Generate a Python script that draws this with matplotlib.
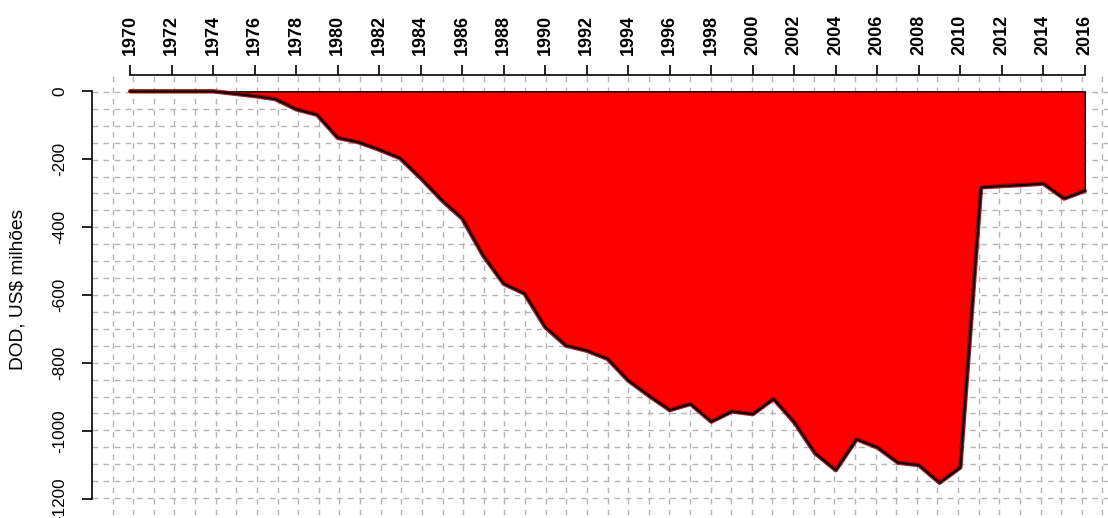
import matplotlib
matplotlib.use("Agg")
import matplotlib.pyplot as plt
import numpy as np

years = list(range(1970, 2017))
dod = [0, 0, 0, 0, 0, -7, -14, -23, -53, -69,
       -137, -150, -172, -197, -256, -320, -375, -483, -567, -596,
       -695, -749, -764, -788, -852, -897, -939, -921, -973, -943,
       -951, -906, -975, -1066, -1116, -1025, -1049, -1094, -1101, -1153,
       -1108, -283, -279, -276, -272, -316, -293]
xticks = list(range(1970, 2017, 2))
yticks = [0, -200, -400, -600, -800, -1000, -1200]
ylabel = "DOD, US$ milhões"

plt.rcParams['font.family'] = ['Liberation Sans', 'DejaVu Sans']

W, H = 1108, 518
PX = 72 / 100  # points per pixel
fig = plt.figure(figsize=(W / 100, H / 100), dpi=100)
left, right = 92, 1123
top, bottom = 75, 515
ax = fig.add_axes([left / W, (H - bottom) / H, (right - left) / W, (bottom - top) / H])

x0, x1 = 1970, 2016
xr = x1 - x0
ax.set_xlim(x0 - 0.04 * xr, x1 + 0.04 * xr)
ax.set_ylim(-1200 - 48, 0 + 48)

# R-style grid: equally spaced across the plot region
xl = ax.get_xlim()
yl = ax.get_ylim()
nx, ny = 50, 26
gx = np.linspace(xl[0], xl[1], nx + 1)[1:-1]
gy = np.linspace(yl[0], yl[1], ny + 1)[1:-1]
for g in gx:
    ax.axvline(g, color='#b4b4b4', lw=1, ls=(0, (4, 4)), zorder=0)
for g in gy:
    ax.axhline(g, color='#b4b4b4', lw=1, ls=(0, (4, 4)), zorder=0)

ax.fill_between(years, dod, 0, facecolor='#ff0000', edgecolor='black', lw=1.0, zorder=2)
ax.plot(years, dod, color='#8b0000', lw=3.2, solid_capstyle='round', alpha=0.85, zorder=3)
ax.plot(years, dod, color='black', lw=1.2, zorder=4)

for s in ['right', 'bottom']:
    ax.spines[s].set_visible(False)
ax.spines['left'].set_bounds(-1200, 0)
ax.spines['top'].set_bounds(1970, 2016)
ax.spines['left'].set_linewidth(1.2)
ax.spines['top'].set_linewidth(1.2)

ax.xaxis.set_ticks_position('top')
ax.set_xticks(xticks)
ax.set_xticklabels([str(t) for t in xticks], rotation=90, fontweight='bold', fontsize=13)
ax.tick_params(axis='x', length=10 * PX, width=1.2, pad=10 * PX)

ax.set_yticks(yticks)
ax.set_yticklabels([str(t) for t in yticks], rotation=90, va='center', fontsize=12.3)
ax.tick_params(axis='y', length=10 * PX, width=1.2, pad=15 * PX)

fig.text(18 / W, 1 - 289 / H, ylabel, rotation=90, ha='center', va='center', fontsize=13.8)

fig.savefig('out.png', dpi=100)
